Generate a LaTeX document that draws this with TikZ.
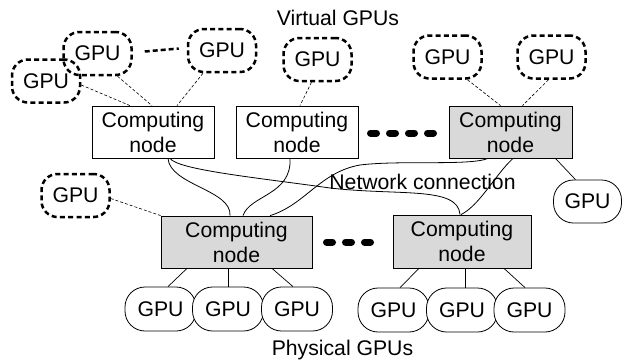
\documentclass[tikz,border=0pt]{standalone}
\usepackage{fontspec}
\setmainfont{Liberation Sans}
\definecolor{nodegray}{HTML}{D9D9D9}
\begin{document}
\begin{tikzpicture}[x=1pt,y=-1pt,
  font=\fontsize{21.2}{25}\selectfont,
  vgpu/.style={draw, line width=2.5pt, dash pattern=on 5pt off 3.3pt, rounded corners=16pt,
    minimum width=68pt, minimum height=43pt, inner sep=0pt},
  pgpu/.style={draw, fill=white, line width=0.8pt, rounded corners=20pt,
    minimum width=71pt, minimum height=44pt, inner sep=0pt},
  comp/.style={draw, line width=0.8pt, minimum height=52pt, inner sep=0pt, align=center},
  compg/.style={comp, fill=nodegray},
  thinlink/.style={line width=0.6pt, dash pattern=on 3pt off 2pt},
  vdots/.style={line width=2.5pt, dash pattern=on 5pt off 3pt},
  link/.style={line width=0.7pt},
  net/.style={line width=0.8pt},
  bigdots/.style={line width=7pt, line cap=round, dash pattern=on 6pt off 13pt},
  lbl/.style={anchor=base, inner sep=0pt}]
\useasboundingbox (0,0) rectangle (622,362);

% labels
\node[lbl] (tv) at (338,25) {Virtual GPUs};
\node[lbl] (tp) at (342.5,355) {Physical GPUs};
\node[lbl] (tn) at (422.5,189) {Network connection};

% computing nodes
\node[comp, minimum width=122pt] (c1) at (153,132) {Computing\\node};
\node[comp, minimum width=122pt] (c2) at (297,132) {Computing\\node};
\node[compg, minimum width=123pt] (c3) at (510.5,132) {Computing\\node};
\node[compg, minimum width=151pt] (c4) at (236.5,242) {Computing\\node};
\node[compg, minimum width=138pt, minimum height=53pt] (c5) at (462,241.5) {Computing\\node};

% virtual GPUs
\node[vgpu] (v1) at (46,81) {GPU};
\node[vgpu] (v2) at (97.5,53.5) {GPU};
\node[vgpu] (v3) at (222,50.5) {GPU};
\node[vgpu] (v4) at (317.5,59.5) {GPU};
\node[vgpu] (v5) at (447.5,57) {GPU};
\node[vgpu] (v6) at (551.5,57) {GPU};
\node[vgpu] (v7) at (75.5,195.5) {GPU};

% physical GPUs
\node[pgpu] (p1) at (160.5,309) {GPU};
\node[pgpu] (p2) at (228,309) {GPU};
\node[pgpu] (p3) at (297,309) {GPU};
\node[pgpu] (p4) at (393.5,310) {GPU};
\node[pgpu] (p5) at (462,310) {GPU};
\node[pgpu] (p6) at (529.5,310) {GPU};
\node[pgpu, minimum width=68pt, minimum height=43pt] (p7) at (587.5,201.5) {GPU};

% virtual links
\draw[vdots] ([xshift=12pt,yshift=2pt]v2.east) -- ([xshift=-8pt,yshift=2pt]v3.west);
\draw[thinlink] ([yshift=-4pt]v1.east) -- ([xshift=-23pt]c1.north);
\draw[thinlink] ([xshift=20pt]v2.south) -- ([xshift=-1pt]c1.north);
\draw[thinlink] ([xshift=-19pt]v3.south) -- ([xshift=24pt]c1.north);
\draw[thinlink] ([xshift=-6pt]v4.south) -- ([xshift=3pt]c2.north);
\draw[thinlink] ([xshift=20pt]v5.south) -- ([xshift=-10pt]c3.north);
\draw[thinlink] ([xshift=-3pt]v6.south) -- ([xshift=12pt]c3.north);
\draw[thinlink] ([yshift=-3pt]v7.east) -- (c4.north west);

% physical links
\draw[link] ([xshift=-17pt]c3.south east) -- ([xshift=-12pt]p7.north);
\draw[link] ([xshift=-49.5pt]c4.south) -- ([xshift=7.5pt]p1.north);
\draw[link] ([xshift=-8.5pt]c4.south) -- (p2.north);
\draw[link] ([xshift=35.5pt]c4.south) -- ([xshift=-4pt]p3.north);
\draw[link] ([xshift=-43pt]c5.south) -- ([xshift=6.5pt]p4.north);
\draw[link] ([xshift=3pt]c5.south) -- ([xshift=3pt]p5.north);
\draw[link] ([xshift=42pt]c5.south) -- ([xshift=-4.5pt]p6.north);

% dots
\coordinate (d1a) at (370.5,133);
\coordinate (d1b) at (436.5,133);
\coordinate (d2a) at (326.5,242);
\coordinate (d2b) at (372.5,242);
\draw[bigdots] (d1a) -- (d1b);
\draw[bigdots] (d2a) -- (d2b);

% network
\draw[net] ([xshift=15pt]c1.south) .. controls (170,185) and (232,190) .. ([xshift=-6.5pt]c4.north);
\draw[net] ([xshift=17pt]c1.south) .. controls (178,170) and (260,178) .. (330,188)
  .. controls (400,196) and (458,186) .. ([xshift=-2pt]c5.north);
\draw[net] ([xshift=-7pt]c2.south) .. controls (292,195) and (250,195) .. ([xshift=6.5pt]c4.north);
\draw[net] ([xshift=-22.5pt]c3.south) .. controls (470,166) and (400,160) .. (360,165)
  .. controls (320,172) and (305,205) .. ([xshift=33.5pt]c4.north);
\draw[net] ([xshift=2.5pt]c3.south) .. controls (495,175) and (480,205) .. ([xshift=-1pt]c5.north);
\end{tikzpicture}
\end{document}
